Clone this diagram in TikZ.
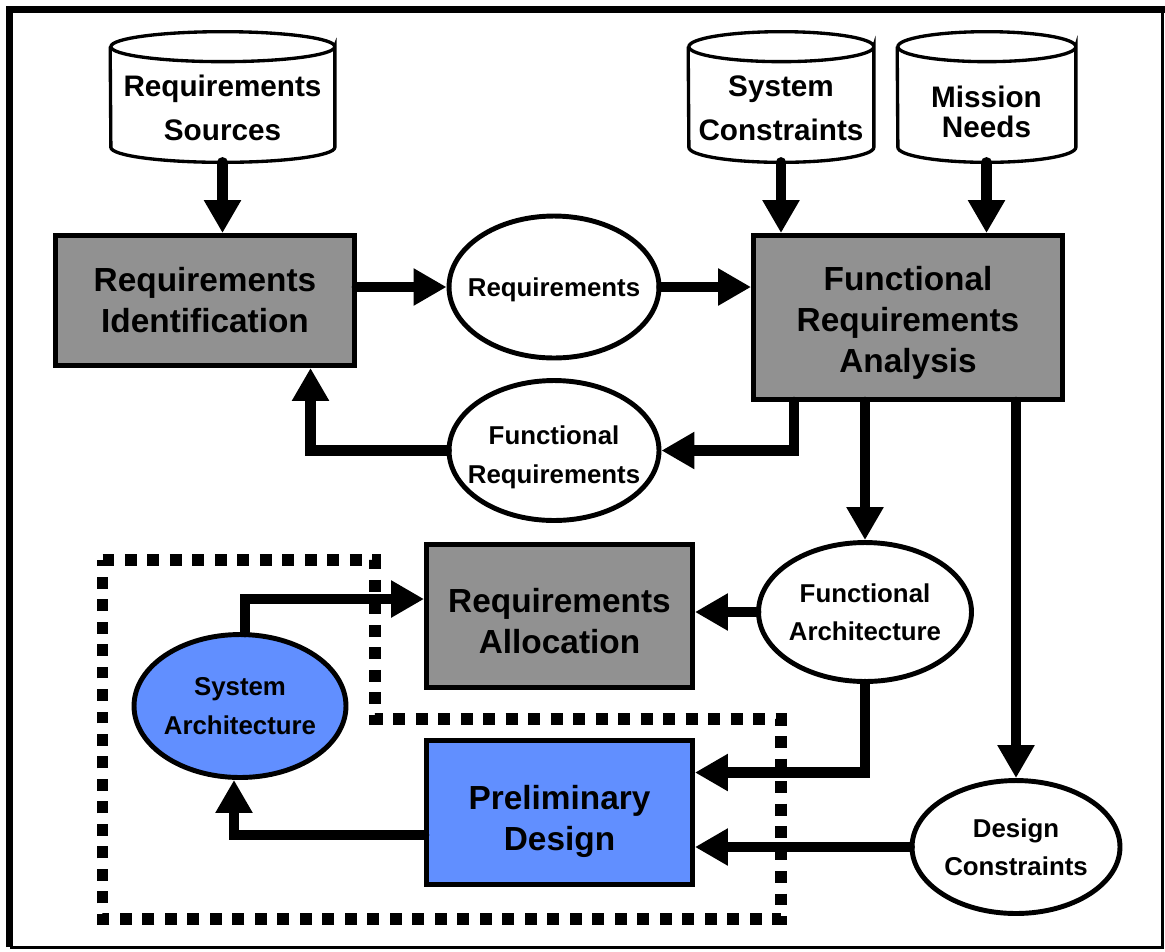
\documentclass[tikz,border=0pt]{standalone}
\usepackage{fontspec}
\setmainfont{Liberation Sans}
\usetikzlibrary{shapes.geometric,arrows.meta,backgrounds}
\definecolor{boxgray}{rgb}{0.57,0.57,0.57}
\definecolor{archblue}{rgb}{0.38,0.56,1.0}

\begin{document}
\begin{tikzpicture}[x=0.02cm,y=-0.02cm,
        every node/.style={inner sep=0,align=center},
        procbox/.style={draw,line width=2.8pt,fill=boxgray,font=\fontsize{19}{23.3}\selectfont\bfseries},
        dataoval/.style={ellipse,draw,line width=2.8pt,fill=white,inner xsep=-0.5cm,text depth=0pt,font=\fontsize{14.7}{21.9}\selectfont\bfseries},
        store/.style={minimum height=2cm,text height=32.7pt,text depth=0pt,font=\fontsize{16.9}{25}\selectfont\bfseries},
        drum/.style={draw,line width=1.9pt,fill=white},
        flow/.style={line width=6pt,line cap=round,-{Triangle[length=18.8pt,width=20pt]}},
        dotframe/.style={line width=6.8pt,dash pattern=on 6.8pt off 6pt}]
        
        \useasboundingbox (0,0) rectangle (1165,951);
        
        % outer frame
        \draw[line width=4pt] (9.5,947) -- (9.5,9.5) -- (1165,9.5);
        \draw[line width=1.7pt] (1162,9.5) -- (1162,947) -- (9.5,947);
        
        % sources
        \node[store,minimum width=4.48cm] (src) at (222.5,112) {Requirements\\Sources};
        \node[store,minimum width=3.7cm] (syscon) at (781,112) {System\\Constraints};
        \node[store,minimum width=3.56cm,text height=29.3pt,font=\fontsize{16.9}{17}\selectfont\bfseries] (need) at (986.5,112) {Mission\\Needs};
        
        \begin{scope}[on background layer]
            \foreach \c/\r in {src/2.24,syscon/1.85,need/1.78}{
                \draw[drum] ([yshift=0.3cm]\c.north east) arc[start angle=0,end angle=360,x radius=\r cm,y radius=0.3cm]
                    -- ([yshift=0.3cm]\c.south east) arc[start angle=0,end angle=-180,x radius=\r cm,y radius=0.3cm]
                    -- ([yshift=0.3cm]\c.north west);
            }
        \end{scope}
        
        % processes
        \node[procbox,minimum width=5.98cm,minimum height=2.6cm] (ident) at (205,300.5) {Requirements\\Identification};
        \node[procbox,text height=62.2pt,text depth=0pt,minimum width=6.18cm,minimum height=3.28cm] (fra) at (908,317.5) {Functional\\Requirements\\Analysis};
        \node[procbox,text height=43pt,text depth=0pt,minimum width=5.32cm,minimum height=2.86cm] (alloc) at (559.5,616) {Requirements\\Allocation};
        \node[procbox,fill=archblue,text height=43.6pt,text depth=0pt,minimum width=5.32cm,minimum height=2.88cm] (prelim) at (559.5,812.5) {Preliminary\\Design};
        
        % data
        \node[dataoval,minimum width=4.2cm,minimum height=2.84cm] (req) at (554,287) {Requirements};
        \node[dataoval,text height=37.5pt,minimum width=4.2cm,minimum height=2.8cm] (freq) at (554,450.5) {Functional\\Requirements};
        \node[dataoval,minimum width=4.26cm,minimum height=2.78cm] (farch) at (865,612) {Functional\\Architecture};
        \node[dataoval,fill=archblue,minimum width=4.24cm,minimum height=2.86cm] (sysarch) at (240,706) {System\\Architecture};
        \node[dataoval,minimum width=4.16cm,minimum height=2.66cm] (dcon) at (1016,847) {Design\\Constraints};
        
        % synthesis boundary
        \draw[dotframe] (102.5,560) -| (375,719) -| (781,919) -- (102.5,919) -- cycle;
        
        \draw[flow] (src.south) -- (src.south |- ident.north);
        \draw[flow] (syscon.south) -- (syscon.south |- fra.north);
        \draw[flow] (need.south) -- (need.south |- fra.north);
        \draw[flow] (ident.east |- req.west) -- (req.west);
        \draw[flow] (req.east) -- (req.east -| fra.west);
        \draw[flow] ([xshift=0.86cm]fra.south west) |- (freq.east);
        \draw[flow] (freq.west) -| ([xshift=5.15cm]ident.south west);
        \draw[flow] (fra.south -| farch.north) -- (farch.north);
        \draw[flow] (fra.south -| dcon.north) -- (dcon.north);
        \draw[flow] (farch.west) -- (farch.west -| alloc.east);
        \draw[flow] (farch.south) |- ([yshift=0.8cm]prelim.east);
        \draw[flow] (dcon.west) -- (dcon.west -| prelim.east);
        \draw[flow] ([yshift=-0.45cm]prelim.west) -| ([xshift=-0.12cm]sysarch.south);
        \draw[flow] ([xshift=0.1cm]sysarch.north) |- ([yshift=0.34cm]alloc.west);
        
\end{tikzpicture}
\end{document}
